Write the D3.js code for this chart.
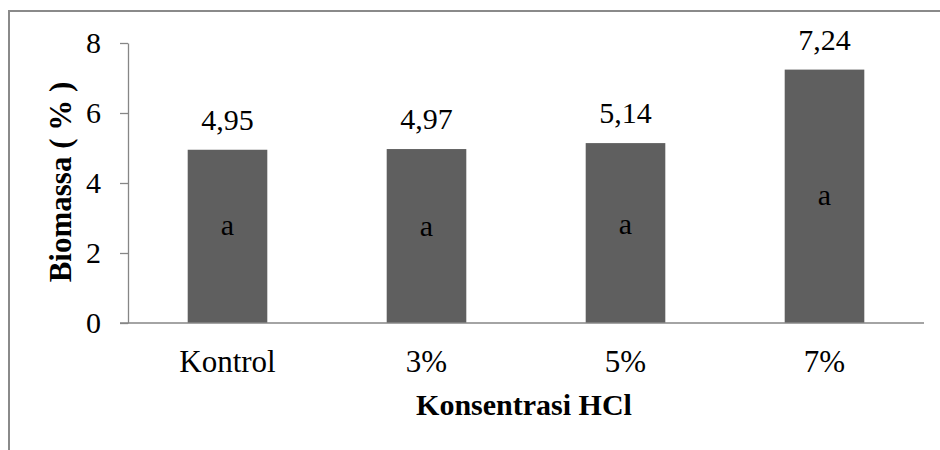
<!DOCTYPE html>
<html>
<head>
<meta charset="utf-8">
<script src="https://cdn.jsdelivr.net/npm/d3@7"></script>
<style>
  html, body { margin: 0; padding: 0; background: #fff; }
  svg { display: block; }
</style>
</head>
<body>
<div id="chart"></div>
<script>
// Biomassa (%) per konsentrasi HCl
const categories = ["Kontrol", "3%", "5%", "7%"]
const values = [4.95, 4.97, 5.14, 7.24]
const valueLabels = ["4,95", "4,97", "5,14", "7,24"]
const letters = ["a", "a", "a", "a"]
// where the letter sits (in axis units)
const letterAt = [2.77, 2.74, 2.8, 3.64]
const yTicks = [0, 2, 4, 6, 8]

const W = 940, H = 450
const margin = { top: 43, right: 16, bottom: 127, left: 128 }
const FONT = "'Liberation Serif', 'Times New Roman', serif"
const AXIS = "#868686"
const BAR = "#5f5f5f"

const svg = d3.select("#chart").append("svg")
  .attr("width", W).attr("height", H)
  .attr("font-family", FONT)

// chart frame (only top + left edges are inside the picture)
svg.append("rect")
  .attr("x", 9).attr("y", 11)
  .attr("width", W + 20).attr("height", H + 20)
  .attr("fill", "none").attr("stroke", "#8a8a8a").attr("stroke-width", 2)

const plotW = W - margin.left - margin.right
const plotH = H - margin.top - margin.bottom

const g = svg.append("g").attr("transform", `translate(${margin.left},${margin.top})`)

const x = d3.scaleBand().domain(categories).range([0, plotW])
  .paddingInner(0.6).paddingOuter(0.3)
const y = d3.scaleLinear().domain([0, 8]).range([280, 0])

// --- axe Y ---
const yAxis = g.append("g")
  .attr("font-family", FONT)
  .call(d3.axisLeft(y).tickValues(yTicks).tickSize(8).tickPadding(19).tickSizeOuter(0))
yAxis.attr("font-family", FONT)
yAxis.selectAll("line, path").attr("stroke", AXIS).attr("stroke-width", 1.3)
yAxis.selectAll("text")
  .attr("font-family", FONT).attr("font-size", 30).attr("fill", "#000")

// --- barres ---
g.selectAll("rect.bar")
  .data(values)
  .join("rect")
  .attr("class", "bar")
  .attr("x", (_, i) => x(categories[i]))
  .attr("y", d => y(d))
  .attr("width", x.bandwidth())
  .attr("height", d => y(0) - y(d))
  .attr("fill", BAR)

// --- axe X (ligne de base, sans graduations) ---
const xAxis = g.append("g")
  .attr("transform", `translate(0,${y(0)})`)
  .call(d3.axisBottom(x).tickSize(0).tickPadding(27))
xAxis.attr("font-family", FONT)
xAxis.select(".domain").attr("d", `M-8,0H${plotW}`)
  .attr("stroke", AXIS).attr("stroke-width", 1.3)
xAxis.selectAll("text")
  .attr("font-family", FONT).attr("font-size", 31).attr("fill", "#000")

// --- valeurs au-dessus des barres ---
g.selectAll("text.value")
  .data(values)
  .join("text")
  .attr("class", "value")
  .attr("x", (_, i) => x(categories[i]) + x.bandwidth() / 2)
  .attr("y", d => y(d) - 20)
  .attr("text-anchor", "middle")
  .attr("font-size", 30)
  .text((_, i) => valueLabels[i])

// --- lettres de significativité ---
g.selectAll("text.letter")
  .data(letters)
  .join("text")
  .attr("class", "letter")
  .attr("x", (_, i) => x(categories[i]) + x.bandwidth() / 2)
  .attr("y", (_, i) => y(letterAt[i]))
  .attr("dy", "0.3em")
  .attr("text-anchor", "middle")
  .attr("font-size", 30)
  .text(d => d)

// --- titres d'axes ---
svg.append("text")
  .attr("x", margin.left + plotW / 2 - 2).attr("y", 415)
  .attr("text-anchor", "middle")
  .attr("font-size", 30).attr("font-weight", "bold")
  .text("Konsentrasi HCl")

svg.append("text")
  .attr("transform", "translate(71,182) rotate(-90)")
  .attr("text-anchor", "middle")
  .attr("font-size", 31).attr("font-weight", "bold")
  .text("Biomassa ( % )")
</script>
</body>
</html>
